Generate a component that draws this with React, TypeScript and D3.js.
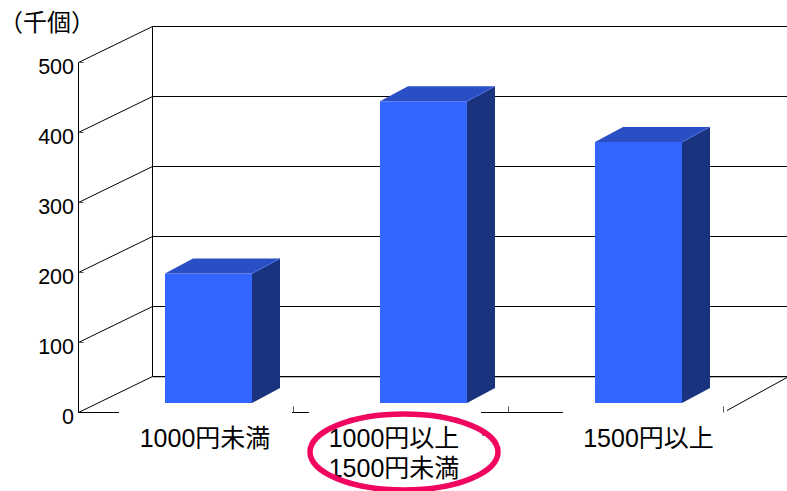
import React from "react";
import * as d3 from "d3";

const categories = ["1000円未満", "1000円以上\n1500円未満", "1500円以上"];
const values = [185, 431, 373];
const yTicks = [0, 100, 200, 300, 400, 500];
const labelCentres = [205, 394, 648.5];
const unitLabel = "（千個）";

const W = 787, H = 491;
const frontX0 = 78.5, frontX1 = 724, baseY = 412.5, topY = 62.5;
const depthX = 74, depthY = 36;
const barOffsetX = 20, barOffsetY = 9.5;
const barDepthX = 28, barDepthY = 15;
const latin = "'Liberation Sans', Arial, 'Noto Sans CJK JP', sans-serif";

export default function App() {
  const y = d3.scaleLinear().domain([0, 500]).range([baseY, topY]);
  const x = d3.scaleBand<number>().domain(categories.map((_, i) => i)).range([frontX0, frontX1]);
  const barW = 87;
  const line = d3.line();
  return (
    <svg width={W} height={H} viewBox={`0 0 ${W} ${H}`} style={{ position: "absolute", left: 0, top: 0, background: "#fff" }}>
      {yTicks.map((t) => (
        <g key={t} stroke="#000" fill="none" strokeWidth={1}>
          <line x1={frontX0 + depthX} x2={W} y1={y(t) - depthY} y2={y(t) - depthY} />
          <line x1={frontX0} x2={frontX0 + depthX} y1={y(t)} y2={y(t) - depthY} />
          <line x1={frontX0} x2={frontX0 + 5} y1={y(t)} y2={y(t)} stroke="#555" />
        </g>
      ))}
      <line x1={frontX0} x2={frontX0} y1={y(0)} y2={y(500)} stroke="#000" />
      <line x1={frontX0 + depthX} x2={frontX0 + depthX} y1={y(0) - depthY} y2={y(500) - depthY} stroke="#000" />
      <line x1={frontX0 + depthX} x2={W} y1={y(0) - depthY + 1} y2={y(0) - depthY + 1} stroke="#bbb" />

      <path d={line([[frontX0, baseY], [119, baseY]]) ?? ""} stroke="#000" fill="none" />
      <path d={line([[292, baseY], [309, baseY]]) ?? ""} stroke="#000" fill="none" />
      <path d={line([[481, baseY], [563, baseY]]) ?? ""} stroke="#000" fill="none" />
      <path d={line([[482, 435], [490, 435]]) ?? ""} stroke="#000" fill="none" />
      {categories.map((_, i) => {
        const tx = Math.round(frontX0 + (i + 1) * x.step()) - 0.5;
        return <line key={i} x1={tx} x2={tx} y1={baseY - 6} y2={baseY} stroke="#555" />;
      })}
      <line x1={frontX1 + 3} y1={baseY - 2} x2={W} y2={baseY - 35} stroke="#000" />

      {values.map((v, i) => {
        const cx = (x(i) ?? 0) + x.bandwidth() / 2 + barOffsetX + 3;
        const x0 = Math.round(cx - barW / 2) - 1, x1 = x0 + barW;
        const yb = y(0) - barOffsetY, yt = yb - (y(0) - y(v));
        return (
          <g key={i}>
            <rect x={x0} y={yt} width={barW} height={yb - yt} fill="#3366ff" />
            <polygon points={`${x1},${yt} ${x1 + barDepthX},${yt - barDepthY} ${x1 + barDepthX},${yb - barDepthY} ${x1},${yb}`} fill="#1a337f" />
            <polygon points={`${x0},${yt} ${x0 + barDepthX},${yt - barDepthY} ${x1 + barDepthX},${yt - barDepthY} ${x1},${yt}`} fill="#2a4fc4" />
            <path d={`M${x1},${yt}L${x1 + barDepthX},${yt - barDepthY}`} stroke="#4a6fe0" fill="none" />
          </g>
        );
      })}

      {yTicks.map((t) => (
        <text key={t} x={74} y={y(t) + 11} textAnchor="end" fontFamily={latin} fontSize={21.5} fill="#000">{t}</text>
      ))}
      <text x={-1} y={31} fontFamily={latin} fontSize={24} fill="#000">{unitLabel}</text>

      {categories.map((c, i) =>
        c.split("\n").map((ln, j) => (
          <text key={`${i}-${j}`} x={labelCentres[i]} y={447 + j * 30} textAnchor="middle" fontFamily={latin} fontSize={25} fill="#000">{ln}</text>
        ))
      )}

      <ellipse cx={404} cy={452} rx={94} ry={38} fill="none" stroke="#f0065f" strokeWidth={5.5} />
    </svg>
  );
}
